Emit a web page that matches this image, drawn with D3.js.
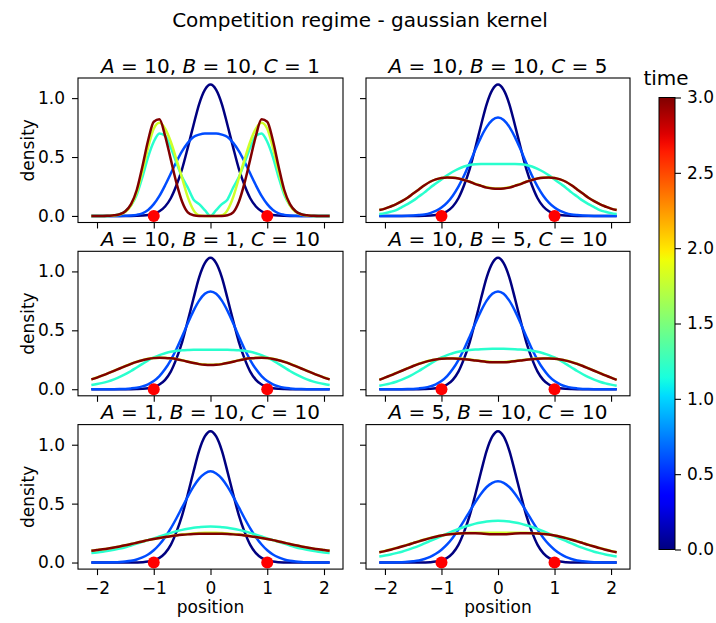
<!DOCTYPE html>
<html>
<head>
<meta charset="utf-8">
<script src="https://cdn.jsdelivr.net/npm/d3@7"></script>
<style>
  body { margin: 0; background: #fff; }
  svg text { font-family: "DejaVu Sans", sans-serif; fill: #000; }
</style>
</head>
<body>
<svg id="chart" width="716" height="623"></svg>
<script>
// ---- data -------------------------------------------------------------
const positions = [-2.1,-2.0,-1.9,-1.8,-1.7,-1.6,-1.5,-1.4,-1.3,-1.2,-1.1,-1.0,-0.9,-0.8,-0.7,-0.6,-0.5,-0.4,-0.3,-0.2,-0.1,0,
  0.1,0.2,0.3,0.4,0.5,0.6,0.7,0.8,0.9,1.0,1.1,1.2,1.3,1.4,1.5,1.6,1.7,1.8,1.9,2.0,2.1];

const times = [0, 0.6, 1.2, 1.8, 3.0];
const paramA = [10, 10, 10, 10, 1, 5];
const paramB = [10, 10, 1, 5, 10, 10];
const paramC = [1, 5, 10, 10, 10, 10];
const sites = [-1, 1];
const xTicks = [-2, -1, 0, 1, 2];
const yTicks = [0, 0.5, 1.0];
const timeTicks = [0, 0.5, 1.0, 1.5, 2.0, 2.5, 3.0];

// initial density (t = 0), shared by every regime
const initial = [0,0,0,0,0,0,0,0,0.001,0.003,0.008,0.02,0.04,0.08,0.15,0.26,0.40,0.58,0.77,0.95,1.07,1.115,
  1.07,0.95,0.77,0.58,0.40,0.26,0.15,0.08,0.04,0.02,0.008,0.003,0.001,0,0,0,0,0,0,0,0];

// A=10, B=10, C=1
const p1_t06 = [0,0,0,0,0,0,0.001,0.003,0.009,0.022,0.05,0.10,0.17,0.26,0.36,0.46,0.55,0.62,0.67,0.69,0.70,0.70,
  0.70,0.69,0.67,0.62,0.55,0.46,0.36,0.26,0.17,0.10,0.05,0.022,0.009,0.003,0.001,0,0,0,0,0,0];
const p1_t12 = [0,0,0,0,0.005,0.015,0.04,0.09,0.18,0.33,0.50,0.63,0.70,0.68,0.58,0.45,0.33,0.24,0.14,0.10,0.05,0,
  0.05,0.10,0.14,0.24,0.33,0.45,0.58,0.68,0.70,0.63,0.50,0.33,0.18,0.09,0.04,0.015,0.005,0,0,0,0];
const p1_t18 = [0,0,0,0,0.004,0.012,0.035,0.09,0.20,0.38,0.58,0.74,0.79,0.74,0.63,0.48,0.32,0.16,0.05,0.005,0,0,
  0,0.005,0.05,0.16,0.32,0.48,0.63,0.74,0.79,0.74,0.58,0.38,0.20,0.09,0.035,0.012,0.004,0,0,0,0];
const p1_t30 = [0,0,0,0.002,0.005,0.014,0.04,0.10,0.22,0.42,0.64,0.80,0.82,0.68,0.48,0.28,0.12,0.03,0.005,0,0,0,
  0,0,0.005,0.03,0.12,0.28,0.48,0.68,0.82,0.80,0.64,0.42,0.22,0.10,0.04,0.014,0.005,0.002,0,0,0];

// A=10, B=10, C=5
const p2_t06 = [0,0,0,0,0,0.001,0.003,0.007,0.013,0.024,0.042,0.071,0.113,0.172,0.249,0.343,0.45,0.563,0.669,0.756,0.815,0.835,
  0.815,0.756,0.669,0.563,0.45,0.343,0.249,0.172,0.113,0.071,0.042,0.024,0.013,0.007,0.003,0.001,0,0,0,0,0];
const p2_t12 = [0.016,0.024,0.035,0.05,0.075,0.10,0.13,0.165,0.20,0.24,0.275,0.31,0.345,0.375,0.40,0.42,0.432,0.438,0.44,0.44,0.44,0.44,
  0.44,0.44,0.44,0.438,0.432,0.42,0.40,0.375,0.345,0.31,0.275,0.24,0.20,0.165,0.13,0.10,0.075,0.05,0.035,0.024,0.016];
const p2_t18 = [0.05,0.062,0.08,0.10,0.125,0.155,0.19,0.225,0.26,0.29,0.31,0.322,0.327,0.326,0.319,0.306,0.291,0.272,0.257,0.243,0.235,0.233,
  0.235,0.243,0.257,0.272,0.291,0.306,0.319,0.326,0.327,0.322,0.31,0.29,0.26,0.225,0.19,0.155,0.125,0.10,0.08,0.062,0.05];
const p2_t30 = [0.05,0.062,0.08,0.10,0.125,0.155,0.19,0.225,0.26,0.29,0.31,0.322,0.327,0.325,0.318,0.305,0.29,0.27,0.255,0.24,0.232,0.23,
  0.232,0.24,0.255,0.27,0.29,0.305,0.318,0.325,0.327,0.322,0.31,0.29,0.26,0.225,0.19,0.155,0.125,0.10,0.08,0.062,0.05];

// A=10, B=1, C=10
const p3_t06 = [0,0,0,0,0,0.001,0.003,0.007,0.013,0.024,0.042,0.07,0.112,0.171,0.248,0.341,0.448,0.56,0.665,0.752,0.81,0.83,
  0.81,0.752,0.665,0.56,0.448,0.341,0.248,0.171,0.112,0.07,0.042,0.024,0.013,0.007,0.003,0.001,0,0,0,0,0];
const p3_t12 = [0.036,0.044,0.054,0.067,0.084,0.104,0.128,0.155,0.185,0.215,0.245,0.27,0.29,0.305,0.318,0.327,0.33,0.333,0.335,0.335,0.335,0.335,
  0.335,0.335,0.335,0.333,0.33,0.327,0.318,0.305,0.29,0.27,0.245,0.215,0.185,0.155,0.128,0.104,0.084,0.067,0.054,0.044,0.036];
const p3_t18 = [0.084,0.1,0.118,0.137,0.157,0.177,0.197,0.216,0.233,0.247,0.258,0.265,0.268,0.267,0.263,0.256,0.246,0.235,0.224,0.215,0.21,0.208,
  0.21,0.215,0.224,0.235,0.246,0.256,0.263,0.267,0.268,0.265,0.258,0.247,0.233,0.216,0.197,0.177,0.157,0.137,0.118,0.1,0.084];
const p3_t30 = [0.083,0.099,0.117,0.136,0.156,0.176,0.196,0.215,0.232,0.246,0.257,0.264,0.267,0.266,0.262,0.255,0.245,0.233,0.222,0.213,0.207,0.205,
  0.207,0.213,0.222,0.233,0.245,0.255,0.262,0.266,0.267,0.264,0.257,0.246,0.232,0.215,0.196,0.176,0.156,0.136,0.117,0.099,0.083];

// A=10, B=5, C=10
const p4_t06 = [0,0,0,0,0,0.001,0.003,0.007,0.013,0.024,0.042,0.07,0.112,0.171,0.248,0.341,0.448,0.56,0.665,0.752,0.81,0.83,
  0.81,0.752,0.665,0.56,0.448,0.341,0.248,0.171,0.112,0.07,0.042,0.024,0.013,0.007,0.003,0.001,0,0,0,0,0];
const p4_t12 = [0.03,0.039,0.05,0.064,0.081,0.102,0.127,0.155,0.185,0.215,0.245,0.27,0.29,0.305,0.318,0.327,0.333,0.337,0.34,0.342,0.343,0.343,
  0.343,0.342,0.34,0.337,0.333,0.327,0.318,0.305,0.29,0.27,0.245,0.215,0.185,0.155,0.127,0.102,0.081,0.064,0.05,0.039,0.03];
const p4_t18 = [0.081,0.099,0.118,0.138,0.158,0.178,0.198,0.216,0.231,0.244,0.253,0.259,0.262,0.262,0.261,0.257,0.252,0.246,0.24,0.235,0.232,0.231,
  0.232,0.235,0.24,0.246,0.252,0.257,0.261,0.262,0.262,0.259,0.253,0.244,0.231,0.216,0.198,0.178,0.158,0.138,0.118,0.099,0.081];
const p4_t30 = [0.08,0.098,0.117,0.137,0.157,0.177,0.197,0.215,0.23,0.243,0.252,0.258,0.261,0.261,0.259,0.255,0.25,0.243,0.237,0.232,0.229,0.228,
  0.229,0.232,0.237,0.243,0.25,0.255,0.259,0.261,0.261,0.258,0.252,0.243,0.23,0.215,0.197,0.177,0.157,0.137,0.117,0.098,0.08];

// A=1, B=10, C=10
const p5_t06 = [0,0,0,0.0012,0.0024,0.0046,0.0085,0.015,0.026,0.043,0.068,0.104,0.153,0.215,0.29,0.376,0.468,0.56,0.644,0.712,0.756,0.774,
  0.756,0.712,0.644,0.56,0.468,0.376,0.29,0.215,0.153,0.104,0.068,0.043,0.026,0.015,0.0085,0.0046,0.0024,0.0012,0,0,0];
const p5_t12 = [0.08,0.085,0.091,0.099,0.108,0.118,0.13,0.145,0.16,0.175,0.19,0.205,0.221,0.237,0.252,0.265,0.277,0.287,0.295,0.30,0.304,0.305,
  0.304,0.30,0.295,0.287,0.277,0.265,0.252,0.237,0.221,0.205,0.19,0.175,0.16,0.145,0.13,0.118,0.108,0.099,0.091,0.085,0.08];
const p5_t18 = [0.1,0.106,0.112,0.119,0.127,0.136,0.146,0.157,0.168,0.179,0.19,0.2,0.209,0.217,0.225,0.232,0.238,0.243,0.247,0.25,0.252,0.252,
  0.252,0.25,0.247,0.243,0.238,0.232,0.225,0.217,0.209,0.2,0.19,0.179,0.168,0.157,0.146,0.136,0.127,0.119,0.112,0.106,0.1];
const p5_t30 = [0.1,0.106,0.112,0.119,0.127,0.136,0.146,0.157,0.168,0.179,0.19,0.2,0.209,0.217,0.224,0.23,0.235,0.239,0.242,0.244,0.245,0.245,
  0.245,0.244,0.242,0.239,0.235,0.23,0.224,0.217,0.209,0.2,0.19,0.179,0.168,0.157,0.146,0.136,0.127,0.119,0.112,0.106,0.1];

// A=5, B=10, C=10
const p6_t06 = [0,0,0.0008,0.0017,0.0033,0.006,0.011,0.018,0.03,0.048,0.074,0.109,0.154,0.211,0.279,0.355,0.435,0.513,0.584,0.641,0.677,0.69,
  0.677,0.641,0.584,0.513,0.435,0.355,0.279,0.211,0.154,0.109,0.074,0.048,0.03,0.018,0.011,0.006,0.0033,0.0017,0.0008,0,0];
const p6_t12 = [0.052,0.06,0.069,0.08,0.092,0.107,0.124,0.142,0.162,0.183,0.204,0.225,0.246,0.266,0.285,0.302,0.317,0.33,0.34,0.348,0.353,0.355,
  0.353,0.348,0.34,0.33,0.317,0.302,0.285,0.266,0.246,0.225,0.204,0.183,0.162,0.142,0.124,0.107,0.092,0.08,0.069,0.06,0.052];
const p6_t18 = [0.088,0.098,0.11,0.123,0.137,0.151,0.166,0.181,0.195,0.208,0.22,0.23,0.238,0.244,0.248,0.25,0.252,0.252,0.252,0.252,0.252,0.252,
  0.252,0.252,0.252,0.252,0.252,0.25,0.248,0.244,0.238,0.23,0.22,0.208,0.195,0.181,0.166,0.151,0.137,0.123,0.11,0.098,0.088];
const p6_t30 = [0.087,0.097,0.109,0.122,0.136,0.15,0.165,0.18,0.194,0.207,0.219,0.229,0.237,0.243,0.247,0.249,0.249,0.248,0.246,0.243,0.241,0.24,
  0.241,0.243,0.246,0.248,0.249,0.249,0.247,0.243,0.237,0.229,0.219,0.207,0.194,0.18,0.165,0.15,0.136,0.122,0.109,0.097,0.087];

const panelSeries = [
  [initial, p1_t06, p1_t12, p1_t18, p1_t30],
  [initial, p2_t06, p2_t12, p2_t18, p2_t30],
  [initial, p3_t06, p3_t12, p3_t18, p3_t30],
  [initial, p4_t06, p4_t12, p4_t18, p4_t30],
  [initial, p5_t06, p5_t12, p5_t18, p5_t30],
  [initial, p6_t06, p6_t12, p6_t18, p6_t30]
];

// ---- colour map (jet) -------------------------------------------------
const jetR = d3.scaleLinear().domain([0, 0.35, 0.66, 0.89, 1]).range([0, 0, 1, 1, 0.5]);
const jetG = d3.scaleLinear().domain([0, 0.125, 0.375, 0.64, 0.91, 1]).range([0, 0, 1, 1, 0, 0]);
const jetB = d3.scaleLinear().domain([0, 0.11, 0.34, 0.65, 1]).range([0.5, 1, 1, 0, 0]);
const timeNorm = d3.scaleLinear().domain([0, 3]).range([0, 1]).clamp(true);
const jet = v => d3.rgb(255 * jetR(v), 255 * jetG(v), 255 * jetB(v)).formatHex();
const timeColor = t => jet(timeNorm(t));

// ---- layout -----------------------------------------------------------
const svg = d3.select("#chart");
const cols = [[78, 343], [366, 630]];
const rows = [[78, 222.5], [251.3, 395.8], [424.6, 569.1]];
const xLimits = [-2.335, 2.335];

const allValues = panelSeries.flat(2);
const yMax = d3.max(allValues), yMin = 0;
const yPad = 0.05 * (yMax - yMin);

const line = d3.line().curve(d3.curveMonotoneX);

svg.append("text")
  .attr("x", 360).attr("y", 27)
  .attr("text-anchor", "middle")
  .style("font-size", "20px")
  .text("Competition regime - gaussian kernel");

panelSeries.forEach((series, i) => {
  const col = i % 2, row = Math.floor(i / 2);
  const [x0, x1] = cols[col];
  const [y0, y1] = rows[row];
  const x = d3.scaleLinear().domain(xLimits).range([x0, x1]);
  const y = d3.scaleLinear().domain([yMin - yPad, yMax + yPad]).range([y1, y0]);

  const g = svg.append("g");

  // curves, earliest first
  series.forEach((vals, k) => {
    g.append("path")
      .attr("d", line.x((d, j) => x(positions[j])).y(d => y(d))(vals))
      .attr("fill", "none")
      .attr("stroke", timeColor(times[k]))
      .attr("stroke-width", 2.5)
      .attr("stroke-linejoin", "round");
  });

  // resource sites
  g.selectAll("circle.site").data(sites).join("circle")
    .attr("class", "site")
    .attr("cx", d => x(d)).attr("cy", y(0)).attr("r", 6)
    .attr("fill", "#ff0000");

  // axes
  const xAxis = d3.axisBottom(x).tickValues(xTicks).tickSize(6).tickPadding(7)
    .tickFormat(row === 2 ? d3.format("") : () => "");
  const yAxis = d3.axisLeft(y).tickValues(yTicks).tickSize(6).tickPadding(7)
    .tickFormat(col === 0 ? d3.format(".1f") : () => "");

  const gx = g.append("g").attr("transform", `translate(0,${y1})`).call(xAxis);
  const gy = g.append("g").attr("transform", `translate(${x0},0)`).call(yAxis);
  [gx, gy].forEach(a => {
    a.select(".domain").remove();
    a.selectAll(".tick line").attr("stroke", "#000").attr("stroke-width", 1.1);
    a.selectAll(".tick text").style("font-size", "17px").style("font-family", "DejaVu Sans");
  });

  g.append("rect")
    .attr("x", x0).attr("y", y0).attr("width", x1 - x0).attr("height", y1 - y0)
    .attr("fill", "none").attr("stroke", "#000").attr("stroke-width", 1.1);

  // panel title
  const title = g.append("text")
    .attr("x", (x0 + x1) / 2).attr("y", y0 - 5.5)
    .attr("text-anchor", "middle")
    .style("font-size", "20px");
  [["A", paramA[i]], ["B", paramB[i]], ["C", paramC[i]]].forEach(([name, v], k) => {
    title.append("tspan").style("font-style", "italic").text(name);
    title.append("tspan").text(` = ${v}` + (k < 2 ? ", " : ""));
  });

  if (col === 0) {
    g.append("text")
      .attr("transform", `translate(34,${(y0 + y1) / 2}) rotate(-90)`)
      .attr("text-anchor", "middle")
      .style("font-size", "17px")
      .text("density");
  }
  if (row === 2) {
    g.append("text")
      .attr("x", (x0 + x1) / 2).attr("y", 613)
      .attr("text-anchor", "middle")
      .style("font-size", "17px")
      .text("position");
  }
});

// ---- colour bar -------------------------------------------------------
const cb = { x: 659, w: 16, y0: 97.5, y1: 549.5 };
const defs = svg.append("defs");
const grad = defs.append("linearGradient").attr("id", "jetGrad")
  .attr("x1", 0).attr("y1", 1).attr("x2", 0).attr("y2", 0);
d3.range(0, 1.0001, 0.02).forEach(s => {
  grad.append("stop").attr("offset", s).attr("stop-color", jet(s));
});
svg.append("rect")
  .attr("x", cb.x).attr("y", cb.y0).attr("width", cb.w).attr("height", cb.y1 - cb.y0)
  .attr("fill", "url(#jetGrad)").attr("stroke", "#000").attr("stroke-width", 1);

const cbScale = d3.scaleLinear().domain([0, 3]).range([cb.y1, cb.y0]);
const cbAxis = svg.append("g").attr("transform", `translate(${cb.x + cb.w},0)`)
  .call(d3.axisRight(cbScale).tickValues(timeTicks).tickSize(6).tickPadding(6).tickFormat(d3.format(".1f")));
cbAxis.select(".domain").remove();
cbAxis.selectAll(".tick line").attr("stroke", "#000").attr("stroke-width", 1.1);
cbAxis.selectAll(".tick text").style("font-size", "17px").style("font-family", "DejaVu Sans");

svg.append("text")
  .attr("x", 666).attr("y", 85)
  .attr("text-anchor", "middle")
  .style("font-size", "20px")
  .text("time");
</script>
</body>
</html>
